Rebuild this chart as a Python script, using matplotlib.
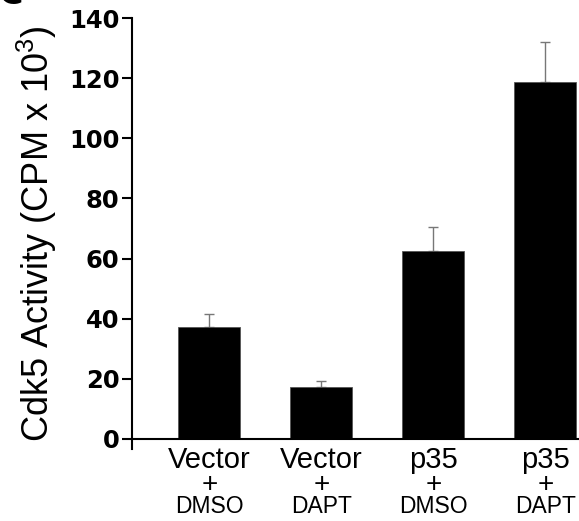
import matplotlib
matplotlib.use("Agg")
import matplotlib.pyplot as plt

# values
groups = ["Vector", "Vector", "p35", "p35"]
treatments = ["DMSO", "DAPT", "DMSO", "DAPT"]
activity = [37.1, 17.4, 62.6, 118.8]
errors = [4.6, 2.0, 7.8, 13.3]
y_ticks = [0, 20, 40, 60, 80, 100, 120, 140]

plt.rcParams["mathtext.fontset"] = "custom"
plt.rcParams["mathtext.rm"] = "Liberation Sans"
plt.rcParams["mathtext.it"] = "Liberation Sans"

W, H = 579, 521
fig = plt.figure(figsize=(W / 100, H / 100), dpi=100)
ax = fig.add_axes([132 / W, (H - 449) / H, (W - 132) / W, (449 - 18) / H])

x = range(len(activity))
ax.bar(x, activity, width=0.555, color="black", edgecolor="#555555", linewidth=0.6, zorder=2)
ax.errorbar(x, activity, yerr=[[0] * len(errors), errors], fmt="none",
            ecolor="#777777", elinewidth=1.0, capsize=3.5, capthick=1.0, zorder=1)

ax.set_xlim(-0.69, 3.30)
ax.set_ylim(-3.33, 140)
ax.set_yticks(y_ticks)
ax.set_yticklabels([str(v) for v in y_ticks], fontsize=17.5, fontweight="bold",
                   family="DejaVu Sans")
ax.tick_params(axis="y", length=7, width=1.5, pad=2)
ax.set_xticks([])

for side in ["top", "right"]:
    ax.spines[side].set_visible(False)
ax.spines["left"].set_linewidth(1.5)
ax.spines["bottom"].set_linewidth(1.5)
ax.spines["bottom"].set_position(("data", 0))

# category labels under each bar (offsets in points below the zero line)
for i, (g, t) in enumerate(zip(groups, treatments)):
    ax.annotate(g, xy=(i, 0), xycoords="data", xytext=(0, -21), textcoords="offset points",
                ha="center", va="baseline", fontsize=21, family="Liberation Sans")
    ax.annotate("+", xy=(i, 0), xycoords="data", xytext=(0, -38.5), textcoords="offset points",
                ha="center", va="baseline", fontsize=20, family="Liberation Sans")
    ax.annotate(t, xy=(i, 0), xycoords="data", xytext=(0, -53), textcoords="offset points",
                ha="center", va="baseline", fontsize=16.5, family="Liberation Sans")

fig.text(37 / W, (H - 234) / H, r"Cdk5 Activity (CPM x 10$^3$)", rotation=90,
         ha="center", va="center", fontsize=26, family="Liberation Sans")

# panel letter, mostly cropped off at the top
fig.text(-2 / W, 1 - 4 / H, "C", fontsize=24, fontweight="bold", family="DejaVu Sans",
         ha="left", va="baseline")

fig.savefig("out.png", dpi=100)
